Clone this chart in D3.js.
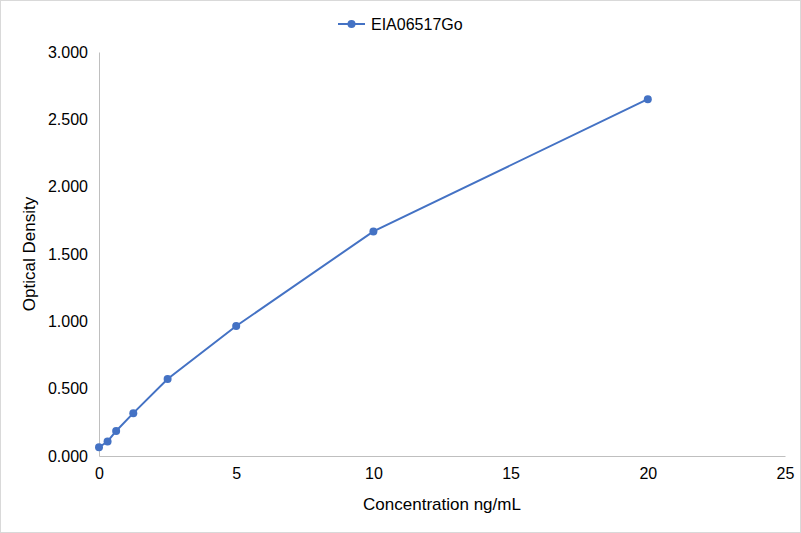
<!DOCTYPE html>
<html>
<head>
<meta charset="utf-8">
<script src="https://cdn.jsdelivr.net/npm/d3@7"></script>
<style>
  body { margin: 0; background: #fff; }
  text { font-family: "Liberation Sans", Arial, sans-serif; fill: #000; }
</style>
</head>
<body>
<script>
const seriesName = "EIA06517Go";
const concentration = [0, 0.3125, 0.625, 1.25, 2.5, 5, 10, 20];
const opticalDensity = [0.065, 0.108, 0.186, 0.318, 0.572, 0.965, 1.668, 2.650];
const xTicks = [0, 5, 10, 15, 20, 25];
const yTicks = [0, 0.5, 1, 1.5, 2, 2.5, 3];

const width = 801, height = 533;
const margin = { top: 52, right: 16, bottom: 77, left: 99 };

const svg = d3.select("body").append("svg")
  .attr("width", width).attr("height", height);

svg.append("rect")
  .attr("x", 0.5).attr("y", 0.5)
  .attr("width", width - 1).attr("height", height - 1)
  .attr("fill", "#fff").attr("stroke", "#d9d9d9");

const x = d3.scaleLinear().domain([0, 25]).range([margin.left, width - margin.right]);
const y = d3.scaleLinear().domain([0, 3]).range([height - margin.bottom, margin.top]);

const xAxis = svg.append("g")
  .attr("transform", `translate(0,${y(0)})`)
  .call(d3.axisBottom(x).tickValues(xTicks).tickSize(0).tickPadding(12).tickFormat(d3.format("d")));
xAxis.select(".domain").attr("stroke", "#bfbfbf");
xAxis.selectAll("text").style("font-size", "16px");

const yAxis = svg.append("g")
  .attr("transform", `translate(${x(0)},0)`)
  .call(d3.axisLeft(y).tickValues(yTicks).tickSize(0).tickPadding(11).tickFormat(d3.format(".3f")));
yAxis.select(".domain").attr("stroke", "#bfbfbf");
yAxis.selectAll("text").style("font-size", "16px");

svg.append("text")
  .attr("x", (x(0) + x(25)) / 2).attr("y", 510)
  .attr("text-anchor", "middle")
  .style("font-size", "17px")
  .text("Concentration ng/mL");

svg.append("text")
  .attr("transform", `translate(35,${(y(0) + y(3)) / 2}) rotate(-90)`)
  .attr("text-anchor", "middle")
  .style("font-size", "17px")
  .text("Optical Density");

const pts = concentration.map((c, i) => ({ c, od: opticalDensity[i] }));
const color = "#4472c4";

svg.append("path")
  .datum(pts)
  .attr("fill", "none")
  .attr("stroke", color)
  .attr("stroke-width", 2)
  .attr("d", d3.line().x(d => x(d.c)).y(d => y(d.od)));

svg.selectAll("circle.pt")
  .data(pts)
  .enter().append("circle")
  .attr("class", "pt")
  .attr("cx", d => x(d.c)).attr("cy", d => y(d.od))
  .attr("r", 4).attr("fill", color);

// Legend
const legend = svg.append("g").attr("transform", "translate(338,24)");
legend.append("line")
  .attr("x1", 0).attr("x2", 27).attr("y1", 0).attr("y2", 0)
  .attr("stroke", color).attr("stroke-width", 2);
legend.append("circle").attr("cx", 13.5).attr("cy", 0).attr("r", 4).attr("fill", color);
legend.append("text")
  .attr("x", 33).attr("y", 5.5)
  .style("font-size", "16px")
  .text(seriesName);
</script>
</body>
</html>
